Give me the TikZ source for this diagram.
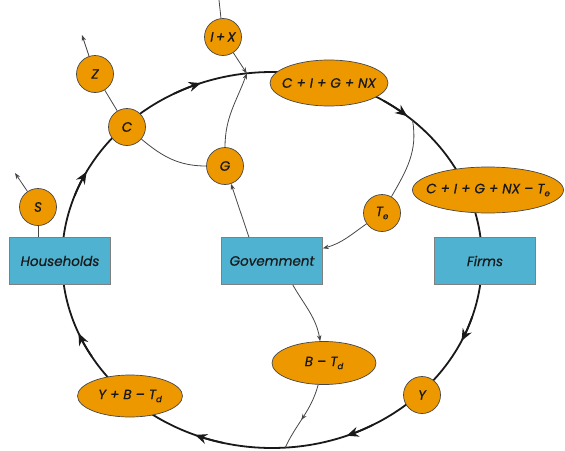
\documentclass[tikz,border=0pt]{standalone}
\usepackage{fontspec}
\setmainfont{Poppins}[ItalicFeatures={FakeBold=0.6}]
\usetikzlibrary{arrows.meta,decorations.markings,shapes.geometric,calc}
\definecolor{orng}{RGB}{238,152,0}
\definecolor{bx}{RGB}{78,178,208}
\definecolor{edge}{RGB}{70,70,70}
\newcommand{\lowsub}[1]{\raisebox{-0.4ex}{\fontsize{8.5}{8.5}\selectfont #1}}
\begin{document}
\begin{tikzpicture}[x=1pt,y=1pt,
  every node/.style={font=\fontsize{13.5}{15}\selectfont\itshape, text=black!90},
  circ/.style={circle, draw=edge, fill=orng, line width=0.7pt, minimum size=37pt, inner sep=0pt},
  oval/.style={ellipse, draw=edge, fill=orng, line width=0.7pt, inner ysep=0pt, inner xsep=-14pt},
  sbox/.style={rectangle, draw=gray, fill=bx, line width=0.7pt, minimum width=101pt, minimum height=47pt, inner sep=0pt},
  loopline/.style={line width=1.8pt, black!90},
  bigtip/.style={-{Stealth[length=12pt,width=10pt]}},
  thinline/.style={line width=0.8pt, edge},
  thinarrow/.style={thinline, -{Stealth[length=6pt,width=4.5pt]}},
  midarrow/.style={postaction={decorate}, decoration={markings, mark=at position 0.55 with {\arrow{Stealth[length=6pt,width=4.5pt]}}}}
]
\useasboundingbox (0,0) rectangle (565,-450);
\coordinate (O) at (272,-260);
\coordinate (J) at ($(O)+(96.9:210 and 188)$);
\coordinate (br) at ($(O)+(48:210 and 188)$);
\coordinate (bot) at ($(O)+(-86.4:210 and 188)$);
\coordinate (zend) at (82,-35);
\coordinate (send) at (15,-173);
\coordinate (ixtop) at (219,0);
% the circular flow
\draw[loopline] (O) ellipse [x radius=210, y radius=188];
\foreach \a in {109.8,49.9,-25.5,-69.2,-111.5,202.9,152} {
  \draw[loopline, bigtip] ($(O)+(\a+8:210 and 188)$) arc[start angle=\a+8, end angle=\a, x radius=210, y radius=188];
}
% nodes
\node[sbox] (hh) at (60,-261) {Households};
\node[sbox] (gov) at (272,-261) {Govemment};
\node[sbox] (firms) at (485,-261) {Firms};
\node[circ] (S) at (38,-207) {S};
\node[circ] (Z) at (95,-74) {Z};
\node[circ] (C) at (127,-127) {C};
\node[circ] (G) at (225,-166) {G};
\node[circ] (IX) at (223,-37) {I\,+\,X};
\node[circ] (Te) at (382,-213) {T\lowsub{e}};
\node[circ] (Y) at (422,-395) {Y};
\node[oval, minimum width=118pt, minimum height=46pt] (AD) at (329,-83) {C + I + G + NX};
\node[oval, minimum width=151pt, minimum height=46pt, inner xsep=-22pt] (ADT) at (488,-190) {C + I + G + NX -- T\lowsub{e}};
\node[oval, minimum width=104pt, minimum height=43pt] (BT) at (324,-363) {B -- T\lowsub{d}};
\node[oval, minimum width=105pt, minimum height=42pt] (YBT) at (130,-396) {Y + B -- T\lowsub{d}};
% thin connectors
\draw[thinline] (Z) -- (C);
\draw[thinarrow] (Z) -- (zend);
\draw[thinarrow] (S) -- (send);
\draw[thinline] (S) -- (S |- hh.north);
\draw[thinline] (IX) -- (ixtop);
\draw[thinarrow] (IX) -- (J);
\draw[thinline] (C) to[out=-40,in=180] (G);
\draw[thinarrow] (G) to[out=90,in=-110] (J);
\draw[thinline] (br) to[out=-80,in=60] (Te);
\draw[thinarrow] (Te) to[out=-145,in=15] (gov.14);
\draw[thinarrow] (gov.134) -- (G);
\draw[thinarrow] (gov.-49) to[out=-60,in=100] (BT);
\draw[thinline, midarrow] (BT) to[out=-105,in=65] (bot);
\end{tikzpicture}
\end{document}
